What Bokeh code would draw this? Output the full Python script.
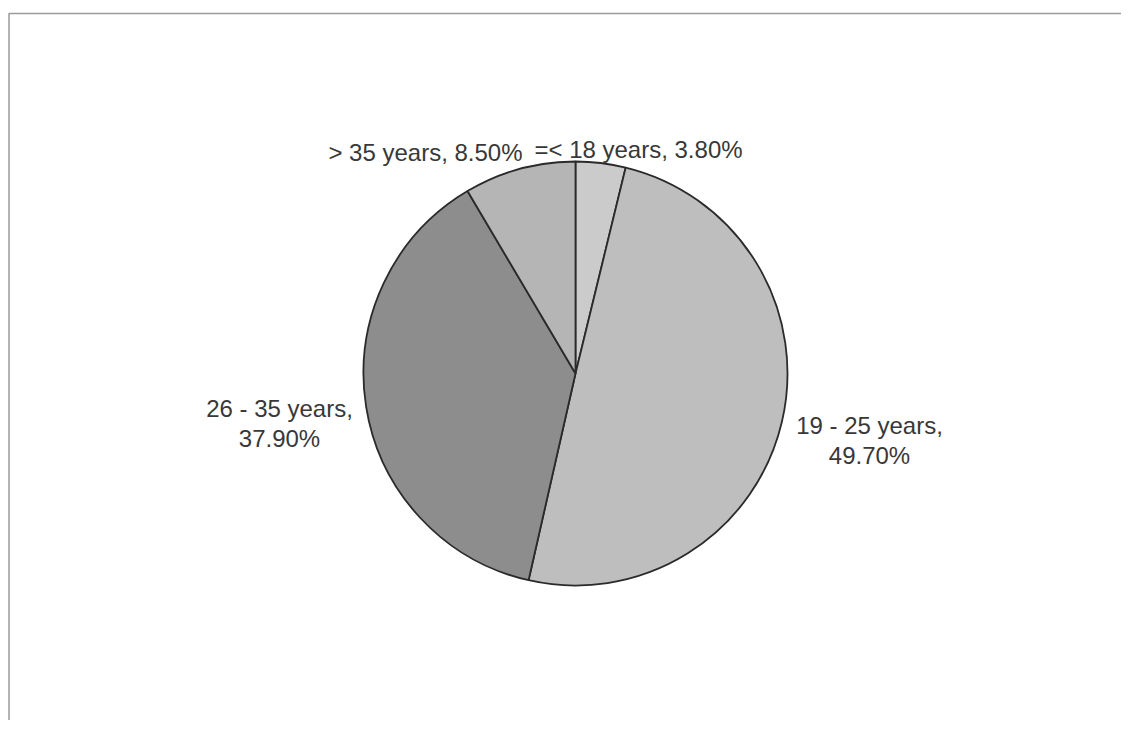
import numpy as np
from bokeh.plotting import figure
from bokeh.models import Range1d, ColumnDataSource
from bokeh.core.properties import value
from bokeh.embed import file_html
from bokeh.resources import INLINE

categories = ["=< 18 years", "19 - 25 years", "26 - 35 years", "> 35 years"]
shares = [3.80, 49.70, 37.90, 8.50]
slice_colors = ["#cbcbcb", "#bebebe", "#8d8d8d", "#b5b5b5"]
label_lines = [
    ["=< 18 years, 3.80%"],
    ["19 - 25 years,", "49.70%"],
    ["26 - 35 years,", "37.90%"],
    ["> 35 years, 8.50%"],
]

W, H = 1121, 720
p = figure(width=W, height=H, output_backend="svg", toolbar_location=None,
           x_range=Range1d(0, W), y_range=Range1d(0, H),
           min_border=0)
p.axis.visible = False
p.grid.visible = False
p.outline_line_color = None
p.background_fill_color = "white"
p.border_fill_color = "white"

def Y(y_img):
    return H - y_img

# frame
p.quad(left=[8.5], right=[1136], top=[Y(13)], bottom=[Y(734)],
       fill_color=None, line_color="#9a9a9a", line_width=1.5)

cx, cy, r = 575, Y(373), 212
frac = np.array(shares) / sum(shares)
cum = np.concatenate([[0], np.cumsum(frac)])
start = np.pi / 2 - cum[:-1] * 2 * np.pi
end = np.pi / 2 - cum[1:] * 2 * np.pi
src = ColumnDataSource(dict(start=start, end=end, color=slice_colors,
                            cat=categories))
p.wedge(x=cx, y=cy, radius=r, start_angle="start", end_angle="end",
        direction="clock", fill_color="color", line_color="#2a2a2a",
        line_width=1.8, source=src)

# label anchor positions (screen layout)
label_pos = [
    (638, [149]),
    (869, [425, 455]),
    (279, [408, 438]),
    (425, [152]),
]
for (lx, ys), lines in zip(label_pos, label_lines):
    for yy, t in zip(ys, lines):
        p.text(x=[lx], y=[Y(yy)], text=[t], text_align="center",
               text_baseline="alphabetic", text_font=value("Liberation Sans"),
               text_font_size="24px", text_color="#383838")

open("out.html", "w").write(file_html(p, INLINE))
